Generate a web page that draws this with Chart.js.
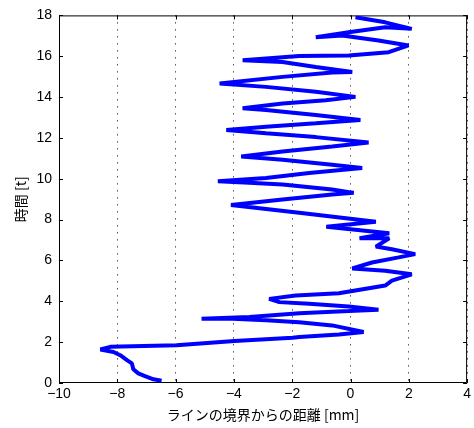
<!DOCTYPE html>
<html>
<head>
<meta charset="utf-8">
<script src="https://cdn.jsdelivr.net/npm/chart.js@4"></script>
<style>
  body { margin: 0; background: #fff; }
  #wrap { width: 474px; height: 428px; }
</style>
</head>
<body>
<div id="wrap"><canvas id="chart" width="474" height="428"></canvas></div>
<script>
// distance from line boundary [mm] vs time [t]
const distance = [
  -6.48, -6.76, -7.05, -7.28, -7.45, -7.50, -7.67, -7.90, -8.13, -8.58, -8.24,
  -5.97, -3.98, -1.99, -1.76, -0.40, 0.45,
  -0.63, -1.76, -2.90, -4.04, -5.11,
  -3.47, -1.76, -0.06, 0.96,
  -0.06, -1.42, -2.44, -2.79,
  -1.88, -0.40, 1.19, 1.42, 2.10,
  1.19, 0.06,
  0.74, 1.65, 2.22,
  1.42, 0.87, 1.33, 0.31, 1.33, -0.83, 0.87,
  -1.76, -4.10,
  -2.33, -0.63, 0.11,
  -0.63, -2.33, -3.47, -4.55,
  -2.90, -1.42, 0.40,
  -0.63, -2.33, -3.75,
  -2.33, -0.63, 0.62,
  -1.19, -2.90, -4.26,
  -2.90, -1.19, 0.34,
  -1.19, -2.90, -3.70,
  -2.33, -0.85, 0.17,
  -1.19, -2.90, -4.49,
  -2.33, -0.63, 0.06,
  -1.19, -2.33, -3.70,
  -1.76, -0.06, 1.31, 1.99,
  0.96, -0.28, -1.19,
  -0.06, 1.19, 2.10,
  1.19, 0.17
];
const time = [
  0.11, 0.18, 0.34, 0.47, 0.67, 0.96, 1.12, 1.36, 1.52, 1.64, 1.77,
  1.85, 2.06, 2.22, 2.25, 2.38, 2.50,
  2.82, 2.98, 3.07, 3.15, 3.15,
  3.23, 3.42, 3.52, 3.59,
  3.75, 3.88, 3.96, 4.12,
  4.28, 4.39, 4.77, 5.01, 5.32,
  5.50, 5.61,
  5.90, 6.15, 6.31,
  6.55, 6.68, 7.09, 7.09, 7.33, 7.65, 7.90,
  8.34, 8.72,
  8.99, 9.23, 9.31,
  9.47, 9.72, 9.80, 9.88,
  10.04, 10.28, 10.53,
  10.69, 10.93, 11.09,
  11.34, 11.58, 11.78,
  12.04, 12.23, 12.39,
  12.55, 12.72, 12.88,
  13.12, 13.37, 13.45,
  13.69, 13.85, 14.01,
  14.26, 14.50, 14.66,
  14.99, 15.20, 15.23,
  15.47, 15.72, 15.80,
  16.01, 16.04, 16.20, 16.53,
  16.77, 17.02, 16.93,
  17.18, 17.42, 17.34,
  17.66, 17.91
];
const xTicks = [-10, -8, -6, -4, -2, 0, 2, 4];
const yTicks = [0, 2, 4, 6, 8, 10, 12, 14, 16, 18];

const points = distance.map((d, i) => ({ x: d, y: time[i] }));

const fmt = (v) => (v < 0 ? "\u2212" + Math.abs(v) : String(v));

// MATLAB-style box with inward ticks on all four sides
const boxPlugin = {
  id: "box",
  beforeDatasetsDraw(chart) {
    const { ctx, chartArea: a, scales } = chart;
    ctx.save();
    ctx.strokeStyle = "#000";
    ctx.lineWidth = 1;
    ctx.beginPath();
    ctx.rect(a.left + 0.5, a.top + 0.5, a.right - a.left - 1, a.bottom - a.top - 1);
    xTicks.forEach((v) => {
      const px = Math.round(scales.x.getPixelForValue(v)) + 0.5;
      ctx.moveTo(px, a.bottom);
      ctx.lineTo(px, a.bottom - 4);
      ctx.moveTo(px, a.top);
      ctx.lineTo(px, a.top + 4);
    });
    yTicks.forEach((v) => {
      const py = Math.round(scales.y.getPixelForValue(v)) + 0.5;
      ctx.moveTo(a.left, py);
      ctx.lineTo(a.left + 4, py);
      ctx.moveTo(a.right, py);
      ctx.lineTo(a.right - 4, py);
    });
    ctx.stroke();
    ctx.restore();
  },
};

const tickFont = { family: "'Liberation Sans', Arial, sans-serif", size: 14 };
const titleFont = { family: "'Noto Sans CJK JP', sans-serif", size: 14 };

new Chart(document.getElementById("chart").getContext("2d"), {
  type: "line",
  data: {
    datasets: [
      {
        data: points,
        borderColor: "#0000ff",
        borderWidth: 4,
        borderJoinStyle: "bevel",
        pointRadius: 0,
        tension: 0,
        fill: false,
      },
    ],
  },
  options: {
    responsive: false,
    animation: false,
    layout: { padding: { top: 14, right: 4, left: 0, bottom: 0 } },
    plugins: { legend: { display: false }, tooltip: { enabled: false } },
    scales: {
      x: {
        type: "linear",
        min: -10,
        max: 4,
        afterBuildTicks: (axis) => { axis.ticks = xTicks.map((v) => ({ value: v })); },
        afterFit: (axis) => { axis.height = 45; },
        ticks: { color: "#000", font: tickFont, padding: 3, callback: fmt, maxRotation: 0 },
        grid: { display: true, color: "#000", lineWidth: 1, drawTicks: false },
        border: { display: false, dash: [1, 6] },
        title: {
          display: true,
          text: "ラインの境界からの距離 [mm]",
          color: "#000",
          font: titleFont,
          padding: { top: 0, bottom: 5 },
        },
      },
      y: {
        type: "linear",
        min: 0,
        max: 18,
        afterBuildTicks: (axis) => { axis.ticks = yTicks.map((v) => ({ value: v })); },
        afterFit: (axis) => { axis.width = 59; },
        ticks: { color: "#000", font: tickFont, padding: 7, callback: fmt },
        grid: { display: false, drawTicks: false },
        border: { display: false },
        title: {
          display: true,
          text: "時間 [t]",
          color: "#000",
          font: titleFont,
          padding: { top: 12, bottom: 0 },
        },
      },
    },
  },
  plugins: [boxPlugin],
});
</script>
</body>
</html>
